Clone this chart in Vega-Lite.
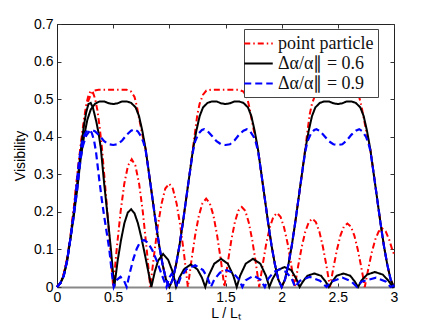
{
"$schema": "https://vega.github.io/schema/vega-lite/v6.json",
"width": 337, "height": 263,
"autosize": {"type": "none"},
"padding": {"left": 57, "top": 24, "right": 42, "bottom": 41},
"config": {"view": {"stroke": "#222", "strokeWidth": 1}, "font": "Liberation Sans", "legend": {"labelFont": "Liberation Serif"}},
"data": {"values": [
{"s":"a06","c":"k1","x":0,"y":0},{"s":"a06","c":"k1","x":0.03,"y":0.01},{"s":"a06","c":"k1","x":0.06,"y":0.03},{"s":"a06","c":"k1","x":0.09,"y":0.07},{"s":"a06","c":"k1","x":0.12,"y":0.13},{"s":"a06","c":"k1","x":0.15,"y":0.19},{"s":"a06","c":"k1","x":0.18,"y":0.26},{"s":"a06","c":"k1","x":0.21,"y":0.34},{"s":"a06","c":"k1","x":0.24,"y":0.40},{"s":"a06","c":"k1","x":0.27,"y":0.445},{"s":"a06","c":"k1","x":0.30,"y":0.472},{"s":"a06","c":"k1","x":0.34,"y":0.488},{"s":"a06","c":"k1","x":0.38,"y":0.494},{"s":"a06","c":"k1","x":0.42,"y":0.494},{"s":"a06","c":"k1","x":0.46,"y":0.489},{"s":"a06","c":"k1","x":0.50,"y":0.487},{"s":"a06","c":"k1","x":0.54,"y":0.489},{"s":"a06","c":"k1","x":0.58,"y":0.494},{"s":"a06","c":"k1","x":0.62,"y":0.494},{"s":"a06","c":"k1","x":0.66,"y":0.49},{"s":"a06","c":"k1","x":0.70,"y":0.478},{"s":"a06","c":"k1","x":0.73,"y":0.455},{"s":"a06","c":"k1","x":0.76,"y":0.415},{"s":"a06","c":"k1","x":0.79,"y":0.365},{"s":"a06","c":"k1","x":0.82,"y":0.30},{"s":"a06","c":"k1","x":0.85,"y":0.235},{"s":"a06","c":"k1","x":0.88,"y":0.17},{"s":"a06","c":"k1","x":0.91,"y":0.11},{"s":"a06","c":"k1","x":0.94,"y":0.06},{"s":"a06","c":"k1","x":0.97,"y":0.02},{"s":"a06","c":"k1","x":1.0,"y":0},
{"s":"a06","c":"k1","x":1.03,"y":0.02},{"s":"a06","c":"k1","x":1.06,"y":0.06},{"s":"a06","c":"k1","x":1.09,"y":0.11},{"s":"a06","c":"k1","x":1.12,"y":0.17},{"s":"a06","c":"k1","x":1.15,"y":0.235},{"s":"a06","c":"k1","x":1.18,"y":0.30},{"s":"a06","c":"k1","x":1.21,"y":0.365},{"s":"a06","c":"k1","x":1.24,"y":0.415},{"s":"a06","c":"k1","x":1.27,"y":0.455},{"s":"a06","c":"k1","x":1.30,"y":0.478},{"s":"a06","c":"k1","x":1.34,"y":0.49},{"s":"a06","c":"k1","x":1.38,"y":0.494},{"s":"a06","c":"k1","x":1.42,"y":0.494},{"s":"a06","c":"k1","x":1.46,"y":0.489},{"s":"a06","c":"k1","x":1.50,"y":0.487},{"s":"a06","c":"k1","x":1.54,"y":0.489},{"s":"a06","c":"k1","x":1.58,"y":0.494},{"s":"a06","c":"k1","x":1.62,"y":0.494},{"s":"a06","c":"k1","x":1.66,"y":0.49},{"s":"a06","c":"k1","x":1.70,"y":0.478},{"s":"a06","c":"k1","x":1.73,"y":0.455},{"s":"a06","c":"k1","x":1.76,"y":0.415},{"s":"a06","c":"k1","x":1.79,"y":0.365},{"s":"a06","c":"k1","x":1.82,"y":0.30},{"s":"a06","c":"k1","x":1.85,"y":0.235},{"s":"a06","c":"k1","x":1.88,"y":0.17},{"s":"a06","c":"k1","x":1.91,"y":0.11},{"s":"a06","c":"k1","x":1.94,"y":0.06},{"s":"a06","c":"k1","x":1.97,"y":0.02},{"s":"a06","c":"k1","x":2.0,"y":0},
{"s":"a06","c":"k1","x":2.03,"y":0.02},{"s":"a06","c":"k1","x":2.06,"y":0.06},{"s":"a06","c":"k1","x":2.09,"y":0.11},{"s":"a06","c":"k1","x":2.12,"y":0.17},{"s":"a06","c":"k1","x":2.15,"y":0.235},{"s":"a06","c":"k1","x":2.18,"y":0.30},{"s":"a06","c":"k1","x":2.21,"y":0.365},{"s":"a06","c":"k1","x":2.24,"y":0.415},{"s":"a06","c":"k1","x":2.27,"y":0.455},{"s":"a06","c":"k1","x":2.30,"y":0.478},{"s":"a06","c":"k1","x":2.34,"y":0.49},{"s":"a06","c":"k1","x":2.38,"y":0.494},{"s":"a06","c":"k1","x":2.42,"y":0.494},{"s":"a06","c":"k1","x":2.46,"y":0.489},{"s":"a06","c":"k1","x":2.50,"y":0.487},{"s":"a06","c":"k1","x":2.54,"y":0.489},{"s":"a06","c":"k1","x":2.58,"y":0.494},{"s":"a06","c":"k1","x":2.62,"y":0.494},{"s":"a06","c":"k1","x":2.66,"y":0.49},{"s":"a06","c":"k1","x":2.70,"y":0.478},{"s":"a06","c":"k1","x":2.73,"y":0.455},{"s":"a06","c":"k1","x":2.76,"y":0.415},{"s":"a06","c":"k1","x":2.79,"y":0.365},{"s":"a06","c":"k1","x":2.82,"y":0.30},{"s":"a06","c":"k1","x":2.85,"y":0.235},{"s":"a06","c":"k1","x":2.88,"y":0.17},{"s":"a06","c":"k1","x":2.91,"y":0.11},{"s":"a06","c":"k1","x":2.94,"y":0.06},{"s":"a06","c":"k1","x":2.97,"y":0.02},{"s":"a06","c":"k1","x":3.0,"y":0},

{"s":"a06","c":"k2","x":0,"y":0},{"s":"a06","c":"k2","x":0.03,"y":0.01},{"s":"a06","c":"k2","x":0.06,"y":0.03},{"s":"a06","c":"k2","x":0.09,"y":0.07},{"s":"a06","c":"k2","x":0.12,"y":0.13},{"s":"a06","c":"k2","x":0.15,"y":0.2},{"s":"a06","c":"k2","x":0.18,"y":0.275},{"s":"a06","c":"k2","x":0.20,"y":0.33},{"s":"a06","c":"k2","x":0.22,"y":0.385},{"s":"a06","c":"k2","x":0.24,"y":0.43},{"s":"a06","c":"k2","x":0.26,"y":0.465},{"s":"a06","c":"k2","x":0.28,"y":0.487},{"s":"a06","c":"k2","x":0.30,"y":0.49},{"s":"a06","c":"k2","x":0.32,"y":0.477},{"s":"a06","c":"k2","x":0.35,"y":0.44},{"s":"a06","c":"k2","x":0.37,"y":0.41},{"s":"a06","c":"k2","x":0.39,"y":0.37},{"s":"a06","c":"k2","x":0.42,"y":0.275},{"s":"a06","c":"k2","x":0.45,"y":0.19},{"s":"a06","c":"k2","x":0.48,"y":0.1},{"s":"a06","c":"k2","x":0.51,"y":0},
{"s":"a06","c":"k2","x":0.54,"y":0.07},{"s":"a06","c":"k2","x":0.57,"y":0.125},{"s":"a06","c":"k2","x":0.60,"y":0.17},{"s":"a06","c":"k2","x":0.63,"y":0.198},{"s":"a06","c":"k2","x":0.66,"y":0.207},{"s":"a06","c":"k2","x":0.69,"y":0.196},{"s":"a06","c":"k2","x":0.72,"y":0.17},{"s":"a06","c":"k2","x":0.75,"y":0.133},{"s":"a06","c":"k2","x":0.78,"y":0.09},{"s":"a06","c":"k2","x":0.81,"y":0.045},{"s":"a06","c":"k2","x":0.84,"y":0},
{"s":"a06","c":"k2","x":0.87,"y":0.04},{"s":"a06","c":"k2","x":0.90,"y":0.07},{"s":"a06","c":"k2","x":0.945,"y":0.088},{"s":"a06","c":"k2","x":0.99,"y":0.072},{"s":"a06","c":"k2","x":1.03,"y":0.04},{"s":"a06","c":"k2","x":1.06,"y":0},
{"s":"a06","c":"k2","x":1.09,"y":0.025},{"s":"a06","c":"k2","x":1.13,"y":0.047},{"s":"a06","c":"k2","x":1.19,"y":0.06},{"s":"a06","c":"k2","x":1.25,"y":0.047},{"s":"a06","c":"k2","x":1.29,"y":0.025},{"s":"a06","c":"k2","x":1.32,"y":0},
{"s":"a06","c":"k2","x":1.35,"y":0.03},{"s":"a06","c":"k2","x":1.40,"y":0.062},{"s":"a06","c":"k2","x":1.46,"y":0.075},{"s":"a06","c":"k2","x":1.52,"y":0.062},{"s":"a06","c":"k2","x":1.57,"y":0.03},{"s":"a06","c":"k2","x":1.60,"y":0},
{"s":"a06","c":"k2","x":1.63,"y":0.03},{"s":"a06","c":"k2","x":1.68,"y":0.062},{"s":"a06","c":"k2","x":1.745,"y":0.075},{"s":"a06","c":"k2","x":1.81,"y":0.062},{"s":"a06","c":"k2","x":1.86,"y":0.03},{"s":"a06","c":"k2","x":1.89,"y":0},
{"s":"a06","c":"k2","x":1.92,"y":0.022},{"s":"a06","c":"k2","x":1.965,"y":0.045},{"s":"a06","c":"k2","x":2.025,"y":0.053},{"s":"a06","c":"k2","x":2.085,"y":0.045},{"s":"a06","c":"k2","x":2.13,"y":0.022},{"s":"a06","c":"k2","x":2.16,"y":0},
{"s":"a06","c":"k2","x":2.19,"y":0.015},{"s":"a06","c":"k2","x":2.23,"y":0.03},{"s":"a06","c":"k2","x":2.29,"y":0.036},{"s":"a06","c":"k2","x":2.35,"y":0.03},{"s":"a06","c":"k2","x":2.39,"y":0.015},{"s":"a06","c":"k2","x":2.42,"y":0},
{"s":"a06","c":"k2","x":2.45,"y":0.015},{"s":"a06","c":"k2","x":2.49,"y":0.03},{"s":"a06","c":"k2","x":2.55,"y":0.036},{"s":"a06","c":"k2","x":2.61,"y":0.03},{"s":"a06","c":"k2","x":2.65,"y":0.015},{"s":"a06","c":"k2","x":2.68,"y":0},
{"s":"a06","c":"k2","x":2.71,"y":0.017},{"s":"a06","c":"k2","x":2.76,"y":0.033},{"s":"a06","c":"k2","x":2.83,"y":0.04},{"s":"a06","c":"k2","x":2.90,"y":0.033},{"s":"a06","c":"k2","x":2.95,"y":0.017},{"s":"a06","c":"k2","x":2.99,"y":0},{"s":"a06","c":"k2","x":3.0,"y":0.003},

{"s":"pp","c":"r1","x":0,"y":0},{"s":"pp","c":"r1","x":0.03,"y":0.01},{"s":"pp","c":"r1","x":0.06,"y":0.035},{"s":"pp","c":"r1","x":0.09,"y":0.075},{"s":"pp","c":"r1","x":0.12,"y":0.135},{"s":"pp","c":"r1","x":0.15,"y":0.21},{"s":"pp","c":"r1","x":0.18,"y":0.295},{"s":"pp","c":"r1","x":0.21,"y":0.37},{"s":"pp","c":"r1","x":0.23,"y":0.415},{"s":"pp","c":"r1","x":0.25,"y":0.46},{"s":"pp","c":"r1","x":0.27,"y":0.488},{"s":"pp","c":"r1","x":0.30,"y":0.512},{"s":"pp","c":"r1","x":0.33,"y":0.523},{"s":"pp","c":"r1","x":0.37,"y":0.525},{"s":"pp","c":"r1","x":0.45,"y":0.525},{"s":"pp","c":"r1","x":0.55,"y":0.525},{"s":"pp","c":"r1","x":0.62,"y":0.525},{"s":"pp","c":"r1","x":0.66,"y":0.52},{"s":"pp","c":"r1","x":0.69,"y":0.506},{"s":"pp","c":"r1","x":0.71,"y":0.482},{"s":"pp","c":"r1","x":0.73,"y":0.45},{"s":"pp","c":"r1","x":0.76,"y":0.405},{"s":"pp","c":"r1","x":0.79,"y":0.365},{"s":"pp","c":"r1","x":0.82,"y":0.30},{"s":"pp","c":"r1","x":0.85,"y":0.235},{"s":"pp","c":"r1","x":0.88,"y":0.17},{"s":"pp","c":"r1","x":0.91,"y":0.11},{"s":"pp","c":"r1","x":0.94,"y":0.06},{"s":"pp","c":"r1","x":0.97,"y":0.02},{"s":"pp","c":"r1","x":1.0,"y":0},
{"s":"pp","c":"r1","x":1.03,"y":0.02},{"s":"pp","c":"r1","x":1.06,"y":0.06},{"s":"pp","c":"r1","x":1.09,"y":0.11},{"s":"pp","c":"r1","x":1.12,"y":0.17},{"s":"pp","c":"r1","x":1.15,"y":0.235},{"s":"pp","c":"r1","x":1.18,"y":0.30},{"s":"pp","c":"r1","x":1.21,"y":0.368},{"s":"pp","c":"r1","x":1.23,"y":0.415},{"s":"pp","c":"r1","x":1.25,"y":0.46},{"s":"pp","c":"r1","x":1.27,"y":0.488},{"s":"pp","c":"r1","x":1.30,"y":0.512},{"s":"pp","c":"r1","x":1.33,"y":0.523},{"s":"pp","c":"r1","x":1.37,"y":0.525},{"s":"pp","c":"r1","x":1.45,"y":0.525},{"s":"pp","c":"r1","x":1.55,"y":0.525},{"s":"pp","c":"r1","x":1.62,"y":0.525},{"s":"pp","c":"r1","x":1.66,"y":0.52},{"s":"pp","c":"r1","x":1.69,"y":0.506},{"s":"pp","c":"r1","x":1.71,"y":0.482},{"s":"pp","c":"r1","x":1.73,"y":0.45},{"s":"pp","c":"r1","x":1.76,"y":0.405},{"s":"pp","c":"r1","x":1.79,"y":0.365},{"s":"pp","c":"r1","x":1.82,"y":0.30},{"s":"pp","c":"r1","x":1.85,"y":0.235},{"s":"pp","c":"r1","x":1.88,"y":0.17},{"s":"pp","c":"r1","x":1.91,"y":0.11},{"s":"pp","c":"r1","x":1.94,"y":0.06},{"s":"pp","c":"r1","x":1.97,"y":0.02},{"s":"pp","c":"r1","x":2.0,"y":0},
{"s":"pp","c":"r1","x":2.03,"y":0.02},{"s":"pp","c":"r1","x":2.06,"y":0.06},{"s":"pp","c":"r1","x":2.09,"y":0.11},{"s":"pp","c":"r1","x":2.12,"y":0.17},{"s":"pp","c":"r1","x":2.15,"y":0.235},{"s":"pp","c":"r1","x":2.18,"y":0.30},{"s":"pp","c":"r1","x":2.21,"y":0.368},{"s":"pp","c":"r1","x":2.23,"y":0.415},{"s":"pp","c":"r1","x":2.25,"y":0.46},{"s":"pp","c":"r1","x":2.27,"y":0.488},{"s":"pp","c":"r1","x":2.30,"y":0.512},{"s":"pp","c":"r1","x":2.33,"y":0.523},{"s":"pp","c":"r1","x":2.37,"y":0.525},{"s":"pp","c":"r1","x":2.45,"y":0.525},{"s":"pp","c":"r1","x":2.55,"y":0.525},{"s":"pp","c":"r1","x":2.62,"y":0.525},{"s":"pp","c":"r1","x":2.66,"y":0.52},{"s":"pp","c":"r1","x":2.69,"y":0.506},{"s":"pp","c":"r1","x":2.71,"y":0.482},{"s":"pp","c":"r1","x":2.73,"y":0.45},{"s":"pp","c":"r1","x":2.76,"y":0.405},{"s":"pp","c":"r1","x":2.79,"y":0.365},{"s":"pp","c":"r1","x":2.82,"y":0.30},{"s":"pp","c":"r1","x":2.85,"y":0.235},{"s":"pp","c":"r1","x":2.88,"y":0.17},{"s":"pp","c":"r1","x":2.91,"y":0.11},{"s":"pp","c":"r1","x":2.94,"y":0.06},{"s":"pp","c":"r1","x":2.97,"y":0.02},{"s":"pp","c":"r1","x":3.0,"y":0},

{"s":"pp","c":"r2","x":0,"y":0},{"s":"pp","c":"r2","x":0.03,"y":0.01},{"s":"pp","c":"r2","x":0.06,"y":0.035},{"s":"pp","c":"r2","x":0.09,"y":0.075},{"s":"pp","c":"r2","x":0.12,"y":0.135},{"s":"pp","c":"r2","x":0.15,"y":0.21},{"s":"pp","c":"r2","x":0.18,"y":0.295},{"s":"pp","c":"r2","x":0.20,"y":0.35},{"s":"pp","c":"r2","x":0.22,"y":0.40},{"s":"pp","c":"r2","x":0.24,"y":0.445},{"s":"pp","c":"r2","x":0.26,"y":0.485},{"s":"pp","c":"r2","x":0.28,"y":0.51},{"s":"pp","c":"r2","x":0.30,"y":0.522},{"s":"pp","c":"r2","x":0.32,"y":0.518},{"s":"pp","c":"r2","x":0.34,"y":0.50},{"s":"pp","c":"r2","x":0.36,"y":0.47},{"s":"pp","c":"r2","x":0.38,"y":0.425},{"s":"pp","c":"r2","x":0.40,"y":0.37},{"s":"pp","c":"r2","x":0.42,"y":0.30},{"s":"pp","c":"r2","x":0.44,"y":0.23},{"s":"pp","c":"r2","x":0.46,"y":0.155},{"s":"pp","c":"r2","x":0.48,"y":0.08},{"s":"pp","c":"r2","x":0.50,"y":0},
{"s":"pp","c":"r2","x":0.533,"y":0.105},{"s":"pp","c":"r2","x":0.566,"y":0.2},{"s":"pp","c":"r2","x":0.599,"y":0.275},{"s":"pp","c":"r2","x":0.632,"y":0.323},{"s":"pp","c":"r2","x":0.665,"y":0.34},{"s":"pp","c":"r2","x":0.698,"y":0.323},{"s":"pp","c":"r2","x":0.731,"y":0.275},{"s":"pp","c":"r2","x":0.764,"y":0.2},{"s":"pp","c":"r2","x":0.797,"y":0.105},{"s":"pp","c":"r2","x":0.83,"y":0},
{"s":"pp","c":"r2","x":0.864,"y":0.085},{"s":"pp","c":"r2","x":0.897,"y":0.162},{"s":"pp","c":"r2","x":0.931,"y":0.222},{"s":"pp","c":"r2","x":0.964,"y":0.262},{"s":"pp","c":"r2","x":0.998,"y":0.275},{"s":"pp","c":"r2","x":1.031,"y":0.262},{"s":"pp","c":"r2","x":1.065,"y":0.222},{"s":"pp","c":"r2","x":1.098,"y":0.162},{"s":"pp","c":"r2","x":1.132,"y":0.085},{"s":"pp","c":"r2","x":1.165,"y":0},
{"s":"pp","c":"r2","x":1.198,"y":0.073},{"s":"pp","c":"r2","x":1.23,"y":0.138},{"s":"pp","c":"r2","x":1.263,"y":0.19},{"s":"pp","c":"r2","x":1.295,"y":0.223},{"s":"pp","c":"r2","x":1.328,"y":0.235},{"s":"pp","c":"r2","x":1.36,"y":0.223},{"s":"pp","c":"r2","x":1.393,"y":0.19},{"s":"pp","c":"r2","x":1.425,"y":0.138},{"s":"pp","c":"r2","x":1.458,"y":0.073},{"s":"pp","c":"r2","x":1.49,"y":0},
{"s":"pp","c":"r2","x":1.521,"y":0.066},{"s":"pp","c":"r2","x":1.552,"y":0.125},{"s":"pp","c":"r2","x":1.583,"y":0.172},{"s":"pp","c":"r2","x":1.614,"y":0.203},{"s":"pp","c":"r2","x":1.645,"y":0.213},{"s":"pp","c":"r2","x":1.676,"y":0.203},{"s":"pp","c":"r2","x":1.707,"y":0.172},{"s":"pp","c":"r2","x":1.738,"y":0.125},{"s":"pp","c":"r2","x":1.769,"y":0.066},{"s":"pp","c":"r2","x":1.80,"y":0},
{"s":"pp","c":"r2","x":1.832,"y":0.061},{"s":"pp","c":"r2","x":1.863,"y":0.116},{"s":"pp","c":"r2","x":1.895,"y":0.159},{"s":"pp","c":"r2","x":1.926,"y":0.187},{"s":"pp","c":"r2","x":1.958,"y":0.197},{"s":"pp","c":"r2","x":1.99,"y":0.187},{"s":"pp","c":"r2","x":2.021,"y":0.159},{"s":"pp","c":"r2","x":2.053,"y":0.116},{"s":"pp","c":"r2","x":2.084,"y":0.061},{"s":"pp","c":"r2","x":2.116,"y":0},
{"s":"pp","c":"r2","x":2.147,"y":0.056},{"s":"pp","c":"r2","x":2.179,"y":0.107},{"s":"pp","c":"r2","x":2.21,"y":0.147},{"s":"pp","c":"r2","x":2.242,"y":0.173},{"s":"pp","c":"r2","x":2.273,"y":0.182},{"s":"pp","c":"r2","x":2.304,"y":0.173},{"s":"pp","c":"r2","x":2.336,"y":0.147},{"s":"pp","c":"r2","x":2.367,"y":0.107},{"s":"pp","c":"r2","x":2.399,"y":0.056},{"s":"pp","c":"r2","x":2.43,"y":0},
{"s":"pp","c":"r2","x":2.461,"y":0.052},{"s":"pp","c":"r2","x":2.492,"y":0.099},{"s":"pp","c":"r2","x":2.523,"y":0.137},{"s":"pp","c":"r2","x":2.554,"y":0.161},{"s":"pp","c":"r2","x":2.585,"y":0.169},{"s":"pp","c":"r2","x":2.616,"y":0.161},{"s":"pp","c":"r2","x":2.647,"y":0.137},{"s":"pp","c":"r2","x":2.678,"y":0.099},{"s":"pp","c":"r2","x":2.709,"y":0.052},{"s":"pp","c":"r2","x":2.74,"y":0},
{"s":"pp","c":"r2","x":2.771,"y":0.048},{"s":"pp","c":"r2","x":2.802,"y":0.092},{"s":"pp","c":"r2","x":2.833,"y":0.126},{"s":"pp","c":"r2","x":2.864,"y":0.148},{"s":"pp","c":"r2","x":2.895,"y":0.156},{"s":"pp","c":"r2","x":2.926,"y":0.148},{"s":"pp","c":"r2","x":2.957,"y":0.126},{"s":"pp","c":"r2","x":2.988,"y":0.096},{"s":"pp","c":"r2","x":3.0,"y":0.088},

{"s":"a09","c":"b1","x":0,"y":0},{"s":"a09","c":"b1","x":0.03,"y":0.01},{"s":"a09","c":"b1","x":0.06,"y":0.03},{"s":"a09","c":"b1","x":0.09,"y":0.07},{"s":"a09","c":"b1","x":0.12,"y":0.13},{"s":"a09","c":"b1","x":0.15,"y":0.19},{"s":"a09","c":"b1","x":0.18,"y":0.26},{"s":"a09","c":"b1","x":0.21,"y":0.34},{"s":"a09","c":"b1","x":0.23,"y":0.375},{"s":"a09","c":"b1","x":0.26,"y":0.403},{"s":"a09","c":"b1","x":0.29,"y":0.415},{"s":"a09","c":"b1","x":0.31,"y":0.418},{"s":"a09","c":"b1","x":0.34,"y":0.414},{"s":"a09","c":"b1","x":0.38,"y":0.402},{"s":"a09","c":"b1","x":0.42,"y":0.388},{"s":"a09","c":"b1","x":0.46,"y":0.38},{"s":"a09","c":"b1","x":0.50,"y":0.378},{"s":"a09","c":"b1","x":0.54,"y":0.38},{"s":"a09","c":"b1","x":0.58,"y":0.39},{"s":"a09","c":"b1","x":0.62,"y":0.405},{"s":"a09","c":"b1","x":0.66,"y":0.416},{"s":"a09","c":"b1","x":0.69,"y":0.42},{"s":"a09","c":"b1","x":0.72,"y":0.414},{"s":"a09","c":"b1","x":0.75,"y":0.40},{"s":"a09","c":"b1","x":0.77,"y":0.385},{"s":"a09","c":"b1","x":0.79,"y":0.362},{"s":"a09","c":"b1","x":0.82,"y":0.30},{"s":"a09","c":"b1","x":0.85,"y":0.235},{"s":"a09","c":"b1","x":0.88,"y":0.17},{"s":"a09","c":"b1","x":0.91,"y":0.11},{"s":"a09","c":"b1","x":0.94,"y":0.06},{"s":"a09","c":"b1","x":0.97,"y":0.02},{"s":"a09","c":"b1","x":1.0,"y":0},
{"s":"a09","c":"b1","x":1.03,"y":0.02},{"s":"a09","c":"b1","x":1.06,"y":0.06},{"s":"a09","c":"b1","x":1.09,"y":0.11},{"s":"a09","c":"b1","x":1.12,"y":0.17},{"s":"a09","c":"b1","x":1.15,"y":0.235},{"s":"a09","c":"b1","x":1.18,"y":0.30},{"s":"a09","c":"b1","x":1.21,"y":0.36},{"s":"a09","c":"b1","x":1.23,"y":0.388},{"s":"a09","c":"b1","x":1.26,"y":0.408},{"s":"a09","c":"b1","x":1.29,"y":0.418},{"s":"a09","c":"b1","x":1.31,"y":0.42},{"s":"a09","c":"b1","x":1.34,"y":0.415},{"s":"a09","c":"b1","x":1.38,"y":0.402},{"s":"a09","c":"b1","x":1.42,"y":0.388},{"s":"a09","c":"b1","x":1.46,"y":0.38},{"s":"a09","c":"b1","x":1.50,"y":0.378},{"s":"a09","c":"b1","x":1.54,"y":0.38},{"s":"a09","c":"b1","x":1.58,"y":0.39},{"s":"a09","c":"b1","x":1.62,"y":0.405},{"s":"a09","c":"b1","x":1.66,"y":0.416},{"s":"a09","c":"b1","x":1.69,"y":0.42},{"s":"a09","c":"b1","x":1.72,"y":0.414},{"s":"a09","c":"b1","x":1.75,"y":0.40},{"s":"a09","c":"b1","x":1.77,"y":0.385},{"s":"a09","c":"b1","x":1.79,"y":0.362},{"s":"a09","c":"b1","x":1.82,"y":0.30},{"s":"a09","c":"b1","x":1.85,"y":0.235},{"s":"a09","c":"b1","x":1.88,"y":0.17},{"s":"a09","c":"b1","x":1.91,"y":0.11},{"s":"a09","c":"b1","x":1.94,"y":0.06},{"s":"a09","c":"b1","x":1.97,"y":0.02},{"s":"a09","c":"b1","x":2.0,"y":0},
{"s":"a09","c":"b1","x":2.03,"y":0.02},{"s":"a09","c":"b1","x":2.06,"y":0.06},{"s":"a09","c":"b1","x":2.09,"y":0.11},{"s":"a09","c":"b1","x":2.12,"y":0.17},{"s":"a09","c":"b1","x":2.15,"y":0.235},{"s":"a09","c":"b1","x":2.18,"y":0.30},{"s":"a09","c":"b1","x":2.21,"y":0.36},{"s":"a09","c":"b1","x":2.23,"y":0.388},{"s":"a09","c":"b1","x":2.26,"y":0.408},{"s":"a09","c":"b1","x":2.29,"y":0.418},{"s":"a09","c":"b1","x":2.31,"y":0.42},{"s":"a09","c":"b1","x":2.34,"y":0.415},{"s":"a09","c":"b1","x":2.38,"y":0.402},{"s":"a09","c":"b1","x":2.42,"y":0.388},{"s":"a09","c":"b1","x":2.46,"y":0.38},{"s":"a09","c":"b1","x":2.50,"y":0.378},{"s":"a09","c":"b1","x":2.54,"y":0.38},{"s":"a09","c":"b1","x":2.58,"y":0.39},{"s":"a09","c":"b1","x":2.62,"y":0.405},{"s":"a09","c":"b1","x":2.66,"y":0.416},{"s":"a09","c":"b1","x":2.69,"y":0.42},{"s":"a09","c":"b1","x":2.72,"y":0.414},{"s":"a09","c":"b1","x":2.75,"y":0.40},{"s":"a09","c":"b1","x":2.77,"y":0.385},{"s":"a09","c":"b1","x":2.79,"y":0.362},{"s":"a09","c":"b1","x":2.82,"y":0.30},{"s":"a09","c":"b1","x":2.85,"y":0.235},{"s":"a09","c":"b1","x":2.88,"y":0.17},{"s":"a09","c":"b1","x":2.91,"y":0.11},{"s":"a09","c":"b1","x":2.94,"y":0.06},{"s":"a09","c":"b1","x":2.97,"y":0.02},{"s":"a09","c":"b1","x":3.0,"y":0},

{"s":"a09","c":"b2","x":0,"y":0},{"s":"a09","c":"b2","x":0.03,"y":0.01},{"s":"a09","c":"b2","x":0.06,"y":0.03},{"s":"a09","c":"b2","x":0.09,"y":0.07},{"s":"a09","c":"b2","x":0.12,"y":0.13},{"s":"a09","c":"b2","x":0.15,"y":0.2},{"s":"a09","c":"b2","x":0.17,"y":0.26},{"s":"a09","c":"b2","x":0.19,"y":0.32},{"s":"a09","c":"b2","x":0.21,"y":0.365},{"s":"a09","c":"b2","x":0.23,"y":0.395},{"s":"a09","c":"b2","x":0.26,"y":0.413},{"s":"a09","c":"b2","x":0.29,"y":0.418},{"s":"a09","c":"b2","x":0.31,"y":0.41},{"s":"a09","c":"b2","x":0.33,"y":0.39},{"s":"a09","c":"b2","x":0.347,"y":0.36},{"s":"a09","c":"b2","x":0.377,"y":0.284},{"s":"a09","c":"b2","x":0.40,"y":0.23},{"s":"a09","c":"b2","x":0.42,"y":0.188},{"s":"a09","c":"b2","x":0.445,"y":0.14},{"s":"a09","c":"b2","x":0.466,"y":0.099},{"s":"a09","c":"b2","x":0.48,"y":0.06},{"s":"a09","c":"b2","x":0.495,"y":0.02},{"s":"a09","c":"b2","x":0.505,"y":0},
{"s":"a09","c":"b2","x":0.53,"y":0.018},{"s":"a09","c":"b2","x":0.565,"y":0.027},{"s":"a09","c":"b2","x":0.595,"y":0.018},{"s":"a09","c":"b2","x":0.62,"y":0},
{"s":"a09","c":"b2","x":0.65,"y":0.04},{"s":"a09","c":"b2","x":0.68,"y":0.075},{"s":"a09","c":"b2","x":0.71,"y":0.102},{"s":"a09","c":"b2","x":0.74,"y":0.12},{"s":"a09","c":"b2","x":0.775,"y":0.125},{"s":"a09","c":"b2","x":0.81,"y":0.118},{"s":"a09","c":"b2","x":0.85,"y":0.097},{"s":"a09","c":"b2","x":0.89,"y":0.068},{"s":"a09","c":"b2","x":0.93,"y":0.035},{"s":"a09","c":"b2","x":0.975,"y":0},
{"s":"a09","c":"b2","x":1.0,"y":0.025},{"s":"a09","c":"b2","x":1.02,"y":0.035},{"s":"a09","c":"b2","x":1.045,"y":0.025},{"s":"a09","c":"b2","x":1.07,"y":0},
{"s":"a09","c":"b2","x":1.10,"y":0.025},{"s":"a09","c":"b2","x":1.15,"y":0.047},{"s":"a09","c":"b2","x":1.23,"y":0.058},{"s":"a09","c":"b2","x":1.30,"y":0.045},{"s":"a09","c":"b2","x":1.34,"y":0.025},{"s":"a09","c":"b2","x":1.37,"y":0},
{"s":"a09","c":"b2","x":1.40,"y":0.02},{"s":"a09","c":"b2","x":1.45,"y":0.038},{"s":"a09","c":"b2","x":1.51,"y":0.045},{"s":"a09","c":"b2","x":1.57,"y":0.037},{"s":"a09","c":"b2","x":1.62,"y":0.02},{"s":"a09","c":"b2","x":1.65,"y":0},
{"s":"a09","c":"b2","x":1.68,"y":0.018},{"s":"a09","c":"b2","x":1.75,"y":0.03},{"s":"a09","c":"b2","x":1.81,"y":0.02},{"s":"a09","c":"b2","x":1.85,"y":0},
{"s":"a09","c":"b2","x":1.88,"y":0.022},{"s":"a09","c":"b2","x":1.93,"y":0.04},{"s":"a09","c":"b2","x":1.98,"y":0.047},{"s":"a09","c":"b2","x":2.04,"y":0.04},{"s":"a09","c":"b2","x":2.09,"y":0.022},{"s":"a09","c":"b2","x":2.12,"y":0},
{"s":"a09","c":"b2","x":2.16,"y":0.016},{"s":"a09","c":"b2","x":2.25,"y":0.027},{"s":"a09","c":"b2","x":2.34,"y":0.017},{"s":"a09","c":"b2","x":2.40,"y":0},
{"s":"a09","c":"b2","x":2.44,"y":0.014},{"s":"a09","c":"b2","x":2.54,"y":0.025},{"s":"a09","c":"b2","x":2.62,"y":0.015},{"s":"a09","c":"b2","x":2.67,"y":0},
{"s":"a09","c":"b2","x":2.71,"y":0.014},{"s":"a09","c":"b2","x":2.84,"y":0.025},{"s":"a09","c":"b2","x":2.93,"y":0.014},{"s":"a09","c":"b2","x":2.97,"y":0},{"s":"a09","c":"b2","x":3.0,"y":0.004}
]},
"encoding": {
  "color": {"field": "s", "type": "nominal", "scale": {"domain": ["pp", "a06", "a09"], "range": ["#ff0000", "#000000", "#0000ff"]},
            "legend": {"title": null, "orient": "none", "legendX": 187, "legendY": 5, "labelExpr": "datum.value === 'pp' ? 'point particle' : datum.value === 'a06' ? 'Δα/α∥ = 0.6' : 'Δα/α∥ = 0.9'", "labelFont": "Liberation Serif", "labelFontSize": 18, "labelColor": "#111", "symbolType": "M-1.5,0H1.5", "symbolSize": 361, "symbolStrokeWidth": 2, "symbolFillColor": "transparent", "strokeColor": "#444", "fillColor": "white", "padding": 4, "rowPadding": -1, "labelOffset": 9}},
  "strokeDash": {"field": "s", "type": "nominal", "scale": {"domain": ["pp", "a06", "a09"], "range": [[6, 3, 1.5, 3], [1, 0], [7, 4]]},
            "legend": {"title": null, "orient": "none", "legendX": 187, "legendY": 5, "labelExpr": "datum.value === 'pp' ? 'point particle' : datum.value === 'a06' ? 'Δα/α∥ = 0.6' : 'Δα/α∥ = 0.9'", "labelFont": "Liberation Serif", "labelFontSize": 18, "labelColor": "#111", "symbolType": "M-1.5,0H1.5", "symbolSize": 361, "symbolStrokeWidth": 2, "symbolFillColor": "transparent", "strokeColor": "#444", "fillColor": "white", "padding": 4, "rowPadding": -1, "labelOffset": 9}},
  "detail": {"field": "c", "type": "nominal"}
},
"layer": [
  {"transform": [{"filter": "datum.s === 'pp'"}], "mark": {"type": "line", "strokeWidth": 2},
   "encoding": {
     "x": {"field": "x", "type": "quantitative", "scale": {"domain": [0, 3], "nice": false, "zero": false},
           "axis": {"values": [0, 0.5, 1, 1.5, 2, 2.5, 3], "format": "~g", "title": "L / Lₜ", "titleFontWeight": "normal", "titleFontSize": 14, "titleColor": "#000", "titlePadding": 2,
                    "labelFontSize": 14, "labelColor": "#000", "labelFlush": false, "tickSize": -4, "tickColor": "#333", "labelPadding": 7, "domainColor": "#888", "domainWidth": 2, "grid": false}},
     "y": {"field": "y", "type": "quantitative", "scale": {"domain": [0, 0.7], "nice": false},
           "axis": {"values": [0, 0.1, 0.2, 0.3, 0.4, 0.5, 0.6, 0.7], "labelExpr": "datum.value === 0 ? '0' : format(datum.value, '.1f')", "title": "Visibility", "titleFontWeight": "normal", "titleFontSize": 14, "titleColor": "#000", "titlePadding": 6,
                    "labelFontSize": 14, "labelColor": "#000", "labelFlush": false, "tickSize": -4, "tickColor": "#333", "labelPadding": 8, "domainColor": "#222", "grid": false}}
   }},
  {"transform": [{"filter": "datum.s === 'a06'"}], "mark": {"type": "line", "strokeWidth": 2},
   "encoding": {
     "x": {"field": "x", "type": "quantitative", "scale": {"domain": [0, 3], "nice": false, "zero": false}, "axis": null},
     "y": {"field": "y", "type": "quantitative", "scale": {"domain": [0, 0.7], "nice": false}, "axis": null}
   }},
  {"transform": [{"filter": "datum.s === 'a09'"}], "mark": {"type": "line", "strokeWidth": 2.2},
   "encoding": {
     "x": {"field": "x", "type": "quantitative", "scale": {"domain": [0, 3], "nice": false, "zero": false},
           "axis": {"orient": "top", "values": [0, 0.5, 1, 1.5, 2, 2.5, 3], "labels": false, "title": null, "tickSize": -4, "tickColor": "#333", "domain": false, "grid": false}},
     "y": {"field": "y", "type": "quantitative", "scale": {"domain": [0, 0.7], "nice": false},
           "axis": {"orient": "right", "values": [0, 0.1, 0.2, 0.3, 0.4, 0.5, 0.6, 0.7], "labels": false, "title": null, "tickSize": -4, "tickColor": "#333", "domain": false, "grid": false}}
   }}
],
"resolve": {"axis": {"x": "independent", "y": "independent"}}
}
